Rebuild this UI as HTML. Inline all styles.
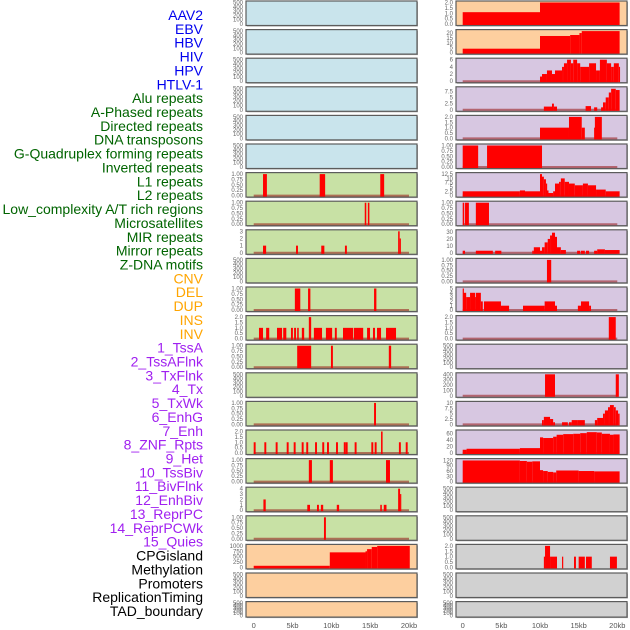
<!DOCTYPE html>
<html><head><meta charset="utf-8"><style>
body{margin:0;background:#fff;width:630px;height:630px;overflow:hidden}
svg{display:block}
</style></head><body>
<svg id="chart" width="630" height="630" xmlns="http://www.w3.org/2000/svg" font-family="Liberation Sans, sans-serif"></svg>
<script>
const categories = ["AAV2","EBV","HBV","HIV","HPV","HTLV-1","Alu repeats","A-Phased repeats","Directed repeats","DNA transposons","G-Quadruplex forming repeats","Inverted repeats","L1 repeats","L2 repeats","Low_complexity A/T rich regions","Microsatellites","MIR repeats","Mirror repeats","Z-DNA motifs","CNV","DEL","DUP","INS","INV","1_TssA","2_TssAFlnk","3_TxFlnk","4_Tx","5_TxWk","6_EnhG","7_Enh","8_ZNF_Rpts","9_Het","10_TssBiv","11_BivFlnk","12_EnhBiv","13_ReprPC","14_ReprPCWk","15_Quies","CPGisland","Methylation","Promoters","ReplicationTiming","TAD_boundary"];
const xTicks = [0,5,10,15,20];
const xTickLabels = ["0","5kb","10kb","15kb","20kb"];
const T500 = [0,100,200,300,400,500];
const T1 = [0,0.25,0.5,0.75,1];
const T2 = [0,0.5,1,1.5,2];
// left column series [startKb, endKb, value]
const alu = [[1.2,1.7,1],[8.5,9.2,1],[16.3,16.8,1]];
const aPhased = [[14.3,14.5,1],[14.7,14.9,1]];
const directed = [[1.2,1.6,1],[5.45,5.7,1],[8.7,9.1,1],[11.75,12,1],[18.6,18.8,3],[18.8,18.95,2]];
const gQuad = [[5.3,6.0,1],[7.0,7.3,1],[15.5,15.8,1]];
const inverted = [[0.68,1.2,1],[1.6,2.0,1],[3.0,3.65,1],[3.8,4.2,1],[4.8,5.05,1],[5.2,5.45,1],[5.6,5.8,1],[6.2,6.5,1],[7.1,7.4,2],[7.75,8.8,1],[9.3,10.1,1],[10.45,10.7,1],[11.5,12.8,1],[12.9,14.1,1],[14.6,14.98,1],[15.36,15.62,1],[15.88,16.4,1],[17.04,18.33,1]];
const l1 = [[5.6,7.4,1],[9.95,10.2,1],[17.4,17.7,1]];
const lowComplexity = [[15.5,15.75,1]];
const micro = [[0,0.25,1],[1.37,1.62,1],[2.83,3.08,1],[4.25,4.5,1],[5.15,5.4,1],[6.18,6.43,1],[6.77,7.02,1],[7.9,8.15,1],[8.83,9.08,1],[9.44,9.69,1],[10.6,10.85,1],[11.6,11.85,1],[11.85,12.1,1],[13.0,13.25,1],[15.15,15.4,1],[15.58,15.83,1],[16.4,16.6,2],[18.7,18.95,1],[19.58,19.83,1]];
const mir = [[7.1,7.5,1],[9.8,10.2,1],[17.04,17.55,1]];
const mirror = [[1.25,1.55,2],[6.9,7.25,1],[8.15,8.4,1],[8.65,8.95,1],[10.7,11.0,1],[16.3,16.5,1],[16.75,17.1,1],[18.6,18.85,4],[18.85,18.95,3]];
const zdna = [[9.05,9.3,1]];
const cnv = [[0,9.8,75],[9.8,14.4,700],[14.4,14.6,750],[14.6,15.2,850],[15.2,15.9,950],[15.9,20.1,1000]];
// right column series
const ins = [[0,10,1.1],[10,20.3,2]];
const inv = [[0,10,4],[10,13.9,17],[13.9,15.1,18],[15.1,15.4,20],[15.4,20.3,22]];
const tssA = [[10,10.26,1.3],[10.26,10.9,2],[10.9,11.55,3],[11.55,11.94,2],[11.94,12.85,3],[12.85,13.1,4],[13.1,13.5,5],[13.5,14.0,6],[14.0,14.3,5],[14.3,14.8,6],[14.8,15.2,5],[15.2,16.35,4],[16.35,17.25,5],[17.25,17.75,3],[17.75,18.65,6],[18.65,19.2,5],[19.2,19.55,4],[19.55,20.2,5],[20.2,20.3,4]];
const tssAFlnk = [[10.5,11.55,1.3],[11.55,11.8,2.5],[11.8,12.2,1.3],[15.9,16.6,1.5],[17.0,17.4,1],[17.9,18.15,1],[18.15,18.5,3],[18.5,18.9,5],[18.9,19.2,7],[19.2,19.8,8.5],[19.8,20.3,8]];
const txFlnk = [[10,13.75,1],[13.75,15.4,2],[15.4,15.8,1],[17.0,17.1,1],[17.1,18.0,2]];
const tx = [[0,2.0,1],[3.15,10.26,1]];
const txWk = [[0,7.4,2.5],[7.4,8.06,3],[8.06,10,2.5],[10,10.26,12.5],[10.26,10.5,11],[10.5,10.77,9.5],[10.77,10.9,7],[10.9,11.1,3],[11.1,11.7,1.5],[11.7,11.94,2.5],[11.94,12.46,7],[12.46,12.7,8],[12.7,13.2,10],[13.2,13.75,8],[13.75,14.5,7],[14.5,15.55,6],[15.55,16.2,7],[16.2,17.25,6],[17.25,18.5,3.5],[18.5,20.3,2.5]];
const enhG = [[0,0.2,1],[0.3,0.8,1],[1.7,3.4,1]];
const enh = [[0,0.3,3],[1.7,3.9,3],[4.2,5.0,3],[9.0,9.2,3],[9.2,10,8],[10,10.26,3],[10.26,10.6,8],[10.6,11.0,15],[11.0,11.3,20],[11.3,11.55,25],[11.55,11.94,29],[11.94,12.2,23],[12.2,12.7,8],[12.7,13.35,4],[14.8,15.2,3],[15.3,15.8,3],[15.95,16.35,3],[17.0,17.4,3],[17.4,18.4,5],[18.4,20.3,4]];
const znf = [[10.9,11.45,1]];
const het = [[0,0.1,5],[0.1,0.45,4],[0.45,0.95,3],[0.95,1.6,4],[1.6,1.7,3],[1.7,2.35,4],[2.35,2.6,2],[2.75,4.95,2],[4.95,6.0,1],[7.8,10.6,1],[10.6,11.94,2],[11.94,12.2,1],[14.9,15.3,1],[15.3,16.35,2],[16.35,16.6,1]];
const tssBiv = [[18.9,19.8,2]];
const enhBiv = [[10.65,11.94,400],[19.8,20.2,400]];
const reprPC = [[10.26,10.5,2],[10.5,11.3,3.5],[11.3,11.7,2.5],[11.7,11.94,1],[12.85,13.6,1],[13.75,14.1,1],[14.1,14.8,2],[14.8,15.8,2],[17.1,17.4,2],[17.4,18.15,3],[18.15,18.4,5],[18.4,18.8,6.5],[18.8,19.05,8],[19.05,19.55,9],[19.55,19.8,8],[19.8,20.1,6.5],[20.1,20.3,5]];
const reprPCWk = [[0,0.5,10],[0.5,7.4,13],[7.4,10,15],[10,10.4,48],[10.4,11.7,46],[11.7,12.15,50],[12.15,13.0,56],[13.0,14.3,58],[14.3,15.2,59],[15.2,16.05,61],[16.05,17.35,64],[17.35,18.0,63],[18.0,19.05,59],[19.05,19.5,56],[19.5,20.3,57]];
const quies = [[0,7.4,120],[7.4,8.3,117],[8.3,9.0,113],[9.0,10,115],[10,10.4,65],[10.4,11.0,60],[11.0,11.7,55],[11.7,12.1,52],[12.1,15.0,63],[15.0,17.0,60],[17.0,20.3,58]];
const promoters = [[10.5,10.65,1],[10.65,11.3,2],[11.3,12.2,1],[12.85,13.0,1],[14.4,14.65,1],[15.0,15.8,1],[15.95,16.7,1],[19.05,19.95,1]];

const seriesList = [null,null,null,null,null,null,alu,aPhased,directed,null,gQuad,inverted,l1,null,lowComplexity,micro,mir,mirror,zdna,cnv,null,null,
  ins,inv,tssA,tssAFlnk,txFlnk,tx,txWk,enhG,enh,znf,het,tssBiv,null,enhBiv,reprPC,reprPCWk,quies,null,null,promoters,null,null];
const tickList = [T500,T500,T500,T500,T500,T500,T1,T1,[0,1,2,3],T500,T1,T2,T1,T500,T1,T2,T1,[0,1,2,3,4],T1,[0,250,500,750,1000],T500,T500,
  T2,[0,5,10,15,20],[0,2,4,6],[0,2.5,5,7.5],T2,T1,[0,2.5,5,7.5,10,12.5],T1,[0,10,20,30],T1,[0,1,2,3,4,5],T2,T500,[0,100,200,300,400],[0,2.5,5,7.5,10],[0,20,40,60],[0,30,60,90,120],T500,T500,T2,T500,T500];
const maxList = [500,500,500,500,500,500,1,1,3,500,1,2,1,500,1,2,1,4,1,1000,500,500,
  2,22,6,8.7,2,1,12.5,1,31,1,5,2,500,400,10,66,122,500,500,2,500,500];

const NS="http://www.w3.org/2000/svg";
const svg=document.getElementById('chart');
function mk(tag,attrs,parent){const e=document.createElementNS(NS,tag);for(const k in attrs)e.setAttribute(k,attrs[k]);(parent||svg).appendChild(e);return e;}
function colorFor(i){if(i<6)return "#0000ee";if(i<19)return "#006400";if(i<24)return "#ffa500";if(i<39)return "#a020f0";return "#000";}
function bgFor(i){if(i<6)return "#c9e4ec";if(i<19)return "#c8e1a5";if(i<24)return "#fdcf9f";if(i<39)return "#d7c7e1";return "#d1d1d1";}

// labels
categories.forEach((c,i)=>{
  const t=mk('text',{x:203,y:15+i*13.86+5,'text-anchor':'end','font-size':14,fill:colorFor(i)});
  t.textContent=c;
  
  
});

const cols=[{x0:246,x1:417,z:253.7,k:7.765},{x0:456,x1:627,z:462.7,k:7.73}];
for(let i=0;i<44;i++){
  const col=cols[i<22?0:1]; const r=i%22;
  const top=1+r*28.6; const h=(r===21)?15.5:24.5;
  const g=mk('g',{});
  
  
  mk('rect',{x:col.x0+1,y:top+1,width:col.x1-col.x0,height:h,fill:'#aaa'},g);
  mk('rect',{x:col.x0,y:top,width:col.x1-col.x0,height:h,fill:bgFor(i),stroke:'#5c5c5c','stroke-width':1.2},g);
  const max=maxList[i];
  const yv=v=>top+h-1.5-(v/max)*(h-3);
  const xv=kb=>col.z+kb*col.k;
  const ticks=tickList[i];
  ticks.forEach(v=>{
    const t=mk('text',{x:col.x0-3,y:yv(v)+2,'text-anchor':'end','font-size':6,fill:'#666'},g);
    t.textContent=String(v>=1||v===0?(max<=2&&ticks.length===5&&ticks[1]===0.25?v.toFixed(2):(ticks[1]===0.5?v.toFixed(1):v)):(ticks[1]===0.25?v.toFixed(2):v));
    
    
  });
  const s=seriesList[i];
  if(s){
    if(i>=6&&i<19||i>=24&&i<39) {
      const bl=mk('line',{x1:xv(0),x2:xv(20),y1:yv(0),y2:yv(0),stroke:'rgba(150,20,20,0.55)','stroke-width':2},g);
      
      
    }
    s.forEach(d=>{
      const b=mk('rect',{x:xv(d[0]),y:yv(d[2]),width:Math.max(1.2,xv(d[1])-xv(d[0])),height:yv(0)-yv(d[2])+1,fill:'#ff0000'},g);
      
      
    });
  }
}
cols.forEach((col,ci)=>{
  xTicks.forEach((v,j)=>{
    const t=mk('text',{x:col.z+v*col.k,y:628,'text-anchor':'middle','font-size':7.5,fill:'#555'});
    t.textContent=xTickLabels[j];
    
    
  });
});
</script>
</body></html>
